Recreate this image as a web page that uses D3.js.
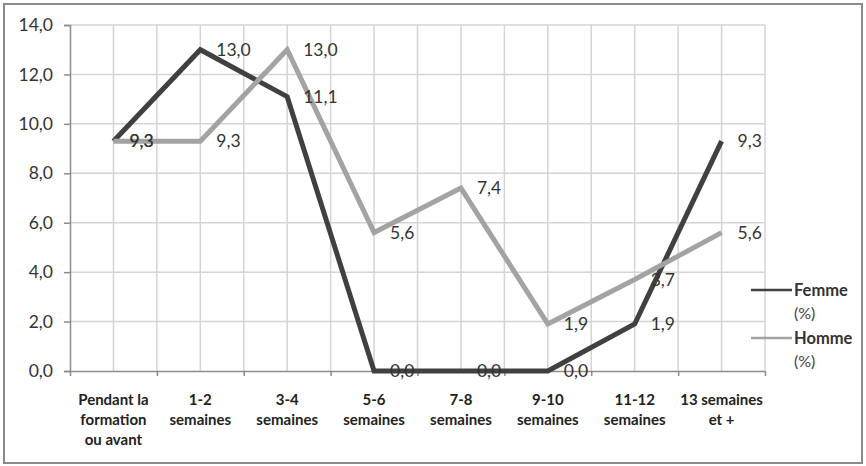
<!DOCTYPE html>
<html><head><meta charset="utf-8">
<script src="https://cdn.jsdelivr.net/npm/d3@7"></script>
<style>
html,body{margin:0;padding:0;background:#fff;}
svg{display:block;font-family:Lato,"Open Sans",sans-serif;}
</style></head>
<body>
<svg id="chart" width="866" height="466"></svg>
<script>
const categories = [["Pendant la","formation","ou avant"],["1-2","semaines"],["3-4","semaines"],["5-6","semaines"],["7-8","semaines"],["9-10","semaines"],["11-12","semaines"],["13 semaines","et +"]];
const femme = [9.3, 13.0, 11.1, 0.0, 0.0, 0.0, 1.9, 9.3];
const homme = [9.3, 9.3, 13.0, 5.6, 7.4, 1.9, 3.7, 5.6];
const yTicks = [0, 2, 4, 6, 8, 10, 12, 14];
const seriesNames = [["Femme","(%)"],["Homme","(%)"]];

const svg = d3.select("#chart");
const L = 70, R = 765, T = 25, B = 371;
const x = d3.scaleBand().domain(d3.range(categories.length)).range([L, R]);
const y = d3.scaleLinear().domain([0, 14]).range([B, T]);
const fmt = v => v.toFixed(1).replace(".", ",");

svg.append("rect").attr("x",4).attr("y",4).attr("width",858).attr("height",459)
  .attr("fill","#fff").attr("stroke","#8a8a8a").attr("stroke-width",2);

// vertical gridlines (boundaries and centres)
const vx = [];
for (let i = 1; i <= categories.length; i++) vx.push(x(i-1) + x.bandwidth());
for (let i = 0; i < categories.length; i++) vx.push(x(i) + x.bandwidth()/2);
svg.append("g").selectAll("line").data(vx).join("line")
  .attr("x1",d=>d).attr("x2",d=>d).attr("y1",T).attr("y2",B)
  .attr("stroke","#d4d4d4").attr("stroke-width",1.5);

// horizontal gridlines
svg.append("g").selectAll("line").data(yTicks.filter(d=>d>0)).join("line")
  .attr("x1",L).attr("x2",R).attr("y1",d=>y(d)).attr("y2",d=>y(d))
  .attr("stroke","#d4d4d4").attr("stroke-width",1.5);

// y axis
const yAxis = svg.append("g").attr("transform",`translate(${L},0)`)
  .call(d3.axisLeft(y).tickValues(yTicks).tickFormat(fmt).tickSize(6).tickPadding(11));
yAxis.select(".domain").attr("stroke","#8c8c8c").attr("stroke-width",1.5);
yAxis.selectAll(".tick line").attr("stroke","#8c8c8c").attr("stroke-width",1.5);
yAxis.selectAll(".tick text").attr("font-size",17.5).attr("fill","#333").attr("font-family","Lato,sans-serif");

// x axis
const xb = d3.scaleLinear().domain([0, categories.length]).range([L, R]);
const xAxis = svg.append("g").attr("transform",`translate(0,${B})`)
  .call(d3.axisBottom(xb).tickValues(d3.range(categories.length+1)).tickFormat("").tickSize(5).tickSizeOuter(0));
xAxis.select(".domain").attr("stroke","#8c8c8c").attr("stroke-width",1.5);
xAxis.selectAll(".tick line").attr("stroke","#8c8c8c").attr("stroke-width",1.5);

// x labels
const xl = svg.append("g").selectAll("text").data(categories).join("text")
  .attr("x",(d,i)=>x(i)+x.bandwidth()/2).attr("y",405)
  .attr("text-anchor","middle").attr("font-size",15).attr("font-weight","bold").attr("fill","#222");
xl.selectAll("tspan").data(d=>d).join("tspan")
  .attr("x",function(){return this.parentNode.getAttribute("x");})
  .attr("dy",(d,i)=>i===0?0:20).text(d=>d);

const cx = i => x(i) + x.bandwidth()/2;
const line = d3.line().x((d,i)=>cx(i)).y(d=>y(d));
const series = [{vals: femme, color:"#404040"},{vals: homme, color:"#a3a3a3"}];
series.forEach(s=>{
  svg.append("path").datum(s.vals).attr("d",line).attr("fill","none")
    .attr("stroke",s.color).attr("stroke-width",5).attr("stroke-linejoin","miter");
});

// data labels
[femme, homme].forEach(vals=>{
  svg.append("g").selectAll("text").data(vals).join("text")
    .attr("x",(d,i)=>cx(i)+16).attr("y",d=>y(d)+6)
    .attr("font-size",17.5).attr("fill","#333").text(fmt);
});

// legend
const leg = svg.append("g");
const legColors = ["#404040","#a3a3a3"];
const legY = [290, 338];
seriesNames.forEach((n,i)=>{
  leg.append("line").attr("x1",751).attr("x2",792).attr("y1",legY[i]).attr("y2",legY[i])
    .attr("stroke",legColors[i]).attr("stroke-width",2.5);
  leg.append("text").attr("x",794).attr("y",legY[i]+6).attr("font-size",16.5)
    .attr("font-weight","bold").attr("fill","#333").text(n[0]);
  leg.append("text").attr("x",794).attr("y",legY[i]+29).attr("font-size",16)
    .attr("fill","#444").text(n[1]);
});
</script>
</body></html>
